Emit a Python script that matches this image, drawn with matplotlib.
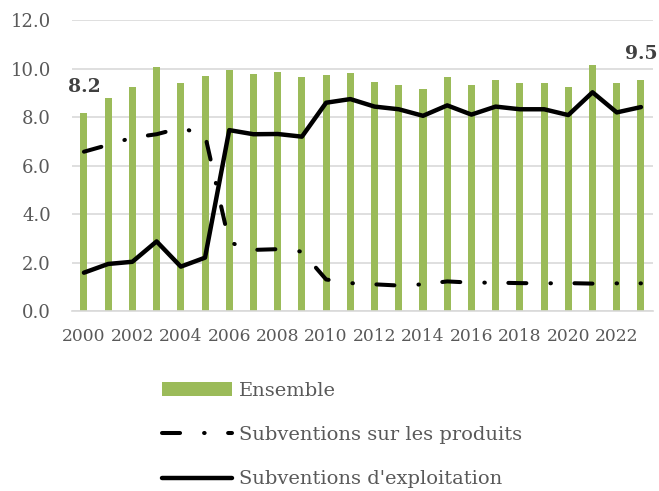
import matplotlib
matplotlib.use("Agg")
import matplotlib.pyplot as plt
import numpy as np

plt.rcParams['font.family'] = ['DejaVu Serif']
plt.rcParams['lines.scale_dashes'] = False

# donnees
annees = list(range(2000, 2024))
ensemble = [8.15, 8.78, 9.24, 10.06, 9.42, 9.69, 9.94, 9.76, 9.86, 9.65, 9.75, 9.83,
            9.44, 9.32, 9.14, 9.65, 9.31, 9.53, 9.40, 9.42, 9.24, 10.14, 9.39, 9.53]
produits = [6.57, 6.85, 7.15, 7.29, 7.55, 7.26, 2.83, 2.52, 2.55, 2.45, 1.30, 1.15,
            1.10, 1.05, 1.10, 1.22, 1.17, 1.17, 1.15, 1.14, 1.15, 1.13, 1.14, 1.14]
exploitation = [1.58, 1.94, 2.03, 2.87, 1.83, 2.20, 7.46, 7.29, 7.30, 7.19, 8.59, 8.74,
                8.43, 8.32, 8.05, 8.48, 8.10, 8.43, 8.32, 8.32, 8.08, 9.02, 8.19, 8.41]
labels_ens = ['8.2', '9.5']

vert = '#9BBB59'
gris_txt = '#595959'
gris_grille = '#D9D9D9'

fig = plt.figure(figsize=(6.59, 4.91), dpi=100)
ax = fig.add_axes([0.109, 0.3666, 0.882, 0.5926])

x = np.arange(len(annees))
b = ax.bar(x, ensemble, width=0.29, color=vert, label='Ensemble', zorder=2)
l1, = ax.plot(x, produits, color='black', lw=2.9, linestyle=(0, (13, 17.3, 0.4, 16.9)),
              dash_capstyle='round', solid_capstyle='round', label='Subventions sur les produits', zorder=3)
l2, = ax.plot(x, exploitation, color='black', lw=3.2, solid_joinstyle='round', solid_capstyle='round',
              label="Subventions d'exploitation", zorder=3)

# etiquettes premiere et derniere barre
for i, txt in zip([0, len(annees) - 1], labels_ens):
    ax.annotate(txt, (x[i], ensemble[i]), xytext=(0, 19), textcoords='offset points',
                ha='center', va='center', fontsize=13.5, fontweight='bold', color='#404040')

ax.set_xlim(-0.5, len(annees) - 0.5)
ax.set_ylim(0, 12)
ax.set_yticks(np.arange(0, 12.1, 2))
ax.set_yticklabels([f'{v:.1f}' for v in np.arange(0, 12.1, 2)])
ax.set_xticks(x[::2])
ax.set_xticklabels([str(a) for a in annees[::2]])
ax.tick_params(axis='both', length=0, labelcolor=gris_txt)
ax.tick_params(axis='y', pad=15, labelsize=13)
ax.tick_params(axis='x', pad=12, labelsize=12.3)
ax.grid(axis='y', color=gris_grille, lw=1.2, zorder=0)
ax.set_axisbelow(True)
for s in ['top', 'right', 'left']:
    ax.spines[s].set_visible(False)
ax.spines['bottom'].set_color(gris_grille)
ax.spines['bottom'].set_linewidth(1.2)

leg = fig.legend([b, l1, l2], ['Ensemble', 'Subventions sur les produits', "Subventions d'exploitation"],
                 loc='upper left', bbox_to_anchor=(0.246, 0.223), frameon=False,
                 fontsize=14, handlelength=3.6, handletextpad=0.36, labelspacing=1.36,
                 borderaxespad=0, borderpad=0)
for t in leg.get_texts():
    t.set_color(gris_txt)

fig.savefig('out.png', dpi=100)
